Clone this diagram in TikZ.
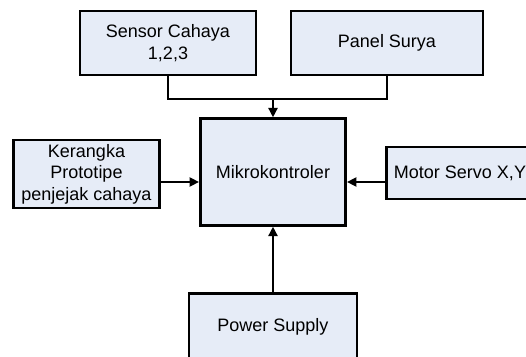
\documentclass[tikz,border=0pt]{standalone}
\usepackage{fontspec}
\setmainfont{Liberation Sans}
\usetikzlibrary{arrows.meta,positioning}
\definecolor{BoxFill}{HTML}{E6ECF7}

\tikzset{
  block/.style={draw,line width=2.2pt,fill=BoxFill,align=center,
    inner sep=0pt,font=\fontsize{13.5}{16.2}\selectfont},
  link/.style={line width=1.1pt},
  feed/.style={link,-{Triangle[length=7pt,width=7pt]}}
}

\begin{document}
\begin{tikzpicture}[x=.75pt,y=-.75pt]
    \useasboundingbox (0,0) rectangle (526,357);
    \clip (0,0) rectangle (526,357);
    % blocks
    \node[block,minimum width=132pt,minimum height=48pt] (sensor) at (168,43) {Sensor Cahaya\\1,2,3};
    \node[block,minimum width=144pt,minimum height=48pt] (panel) at (387,43) {Panel Surya};
    \node[block,minimum width=109pt,minimum height=80pt] (mikro) at (273,172) {Mikrokontroler};
    \node[block,minimum width=109pt,minimum height=51pt] (frame) at (86.5,174) {Kerangka\\Prototipe\\penjejak cahaya};
    \node[block,minimum width=110pt,minimum height=39pt] (servo) at (460,173) {Motor Servo X,Y};
    \node[block,minimum width=126pt,minimum height=50pt] (power) at (273,327) {Power Supply};
    % connectors
    \coordinate (join) at (273,99);
    \draw[link] (sensor.south) |- (join) -| (panel.south);
    \draw[feed] (join) -- (mikro.north);
    \draw[feed] (frame.east |- 0,182) -- (mikro.west |- 0,182);
    \draw[feed] (servo.west |- 0,182) -- (mikro.east |- 0,182);
    \draw[feed] (power.north) -- (mikro.south);
  \end{tikzpicture}
\end{document}
